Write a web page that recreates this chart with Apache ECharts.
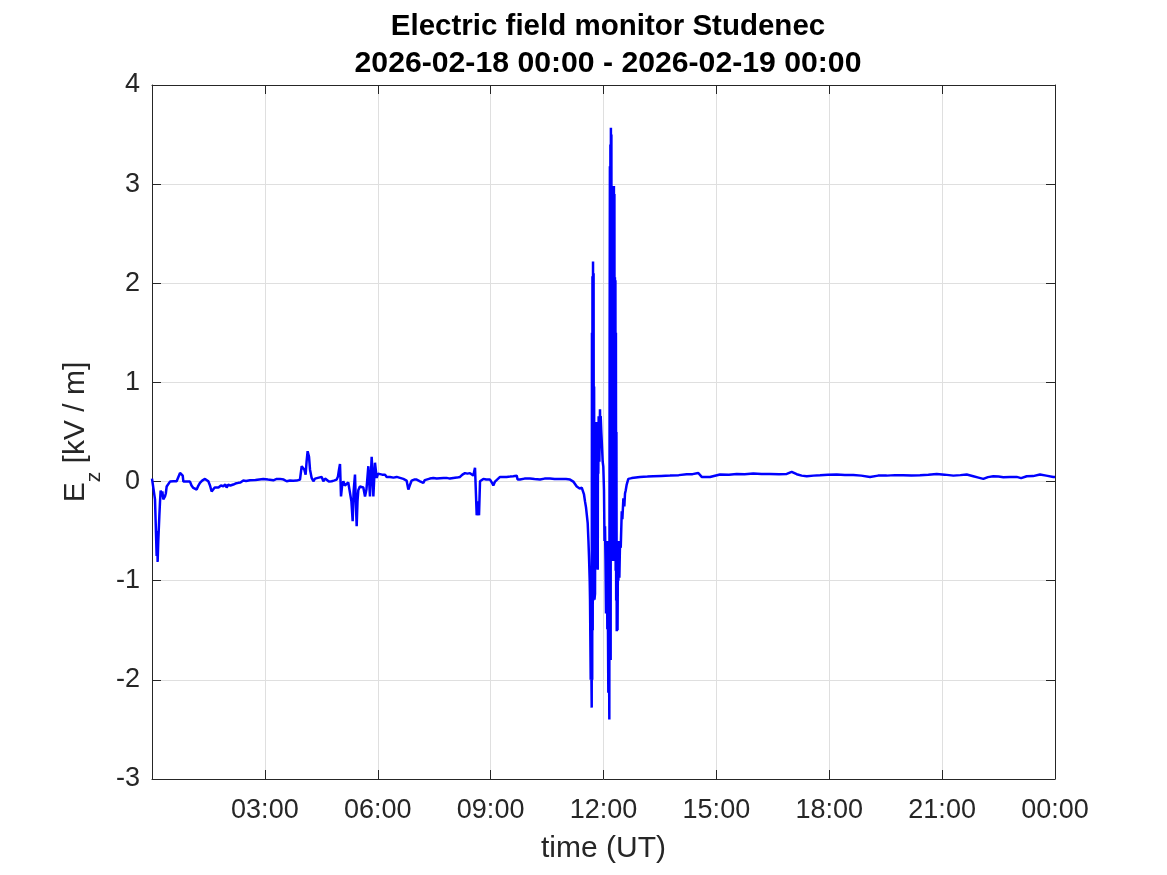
<!DOCTYPE html>
<html>
<head>
<meta charset="utf-8">
<script src="https://cdn.jsdelivr.net/npm/echarts@6/dist/echarts.min.js"></script>
<style>
html,body{margin:0;padding:0;background:#fff;}
#chart{width:1167px;height:875px;}
</style>
</head>
<body>
<div id="chart"></div>
<script>
// ---- data (time in minutes since 2026-02-18 00:00 UT, Ez in kV/m) ----
const titleLines = ['Electric field monitor Studenec', '2026-02-18 00:00 - 2026-02-19 00:00'];
const xAxisTitle = 'time (UT)';
const yTicks = [-3, -2, -1, 0, 1, 2, 3, 4];
const xTickMinutes = [0, 180, 360, 540, 720, 900, 1080, 1260, 1440];

const timesA = [0,1,4.8,6.5,7.4,8.2,9,10,11.7,12.8,13.8,15.5,16.5,18,20.7,22,23.4,26,28.7,31,34,36,39.3,42,44.7,47.3,49,50,52.5,55.3,58,60.6,63,65.9,68,71.2,74,76.5,80,84.5,87,89.8,92.5,95.1,97.8,100,103,106,110,113.7,117,119,121.7,125,129.7,133,137.7,141,145.6,150,156.3,165,177.5,185,193.5,198,204.1,210,214.8,217,220,225,230.7,236,238.7,241.3,243,245,246.5,248.2,250.4,252,254.6,257.3,260,262.6,266,270.6,273.2,276,278.5,282,286.5,290,294.5,296.5,298.2,299.8,301.4,303,305.1,307.5,310.4,313,315.8,318,320,321.5,323.7,325,326.4,327.7,329,331.5,334.4,337,339.7,342,345,347.6,350.3,351.5,353,355.6,358.3,360.5,363.6,367,371.6,374.2,379.5,385,390.2,395.5,400.8,403.5,406,408.8,411,414.1,418,422.1,427.4,432.7,435,438,443,448.6,454,459.3,465,469.9,475,480.5,486,491.2,495,499.1,503,507.1,512.4,515.1,516.7,517.8,519.5,521.5,523.1,528.4,533,539,542,544.3,547,549.6,555,560,565.6,571,576.2,581.6,583,586.8,594,602.8,610,618.7,626,634.7,642,650.6,660.2,666.6];
const valuesA = [0.03,0.02,-0.18,-0.55,-0.75,-0.5,-0.81,-0.6,-0.35,-0.2,-0.09,-0.15,-0.1,-0.18,-0.15,-0.12,-0.05,-0.03,0.0,-0.01,0.003,-0.01,0.003,-0.013,0.087,0.104,0.06,0.0,0.01,0.0,0.01,0.0,-0.04,-0.064,-0.06,-0.08,-0.04,-0.013,0.01,0.027,0.015,0.003,-0.04,-0.1,-0.1,-0.06,-0.047,-0.06,-0.04,-0.047,-0.03,-0.06,-0.03,-0.04,-0.03,-0.02,-0.013,-0.01,0.01,0.005,0.013,0.015,0.027,0.02,0.013,0.025,0.027,0.02,0.003,0.0,0.01,0.008,0.01,0.02,0.155,0.17,0.12,0.07,0.2,0.306,0.25,0.12,0.037,0.003,0.03,0.037,0.04,0.047,0.003,0.03,0.02,0.0,0.003,0.01,0.02,0.05,0.12,0.178,-0.15,-0.05,0.003,-0.04,-0.047,-0.01,0.003,-0.2,-0.4,-0.1,0.07,-0.2,-0.45,-0.2,-0.087,-0.05,-0.03,-0.06,-0.15,-0.08,0.155,-0.15,0.25,0.1,-0.15,0.19,0.037,0.08,0.094,0.07,0.07,0.047,0.047,0.04,0.047,0.037,0.027,0.047,0.01,-0.08,-0.04,0.01,0.02,0.02,0.003,-0.013,0.015,0.02,0.03,0.037,0.03,0.034,0.037,0.037,0.03,0.037,0.04,0.047,0.07,0.085,0.08,0.085,0.06,0.14,0.155,-0.34,-0.2,-0.34,0.003,0.027,0.02,0.02,-0.01,-0.04,0.0,0.01,0.047,0.045,0.047,0.05,0.054,0.06,0.02,0.02,0.03,0.03,0.025,0.02,0.03,0.03,0.025,0.025,0.025,0.02];

const timesB = [671.8,677.3,679.8,682,685.3,688.9,690.5,692.1,694.8,696,696.9,698,698.5,699.6,700.5,701.2,701.6,702.0,702.4,702.8,703.3,703.7,704.2,704.6,705,705.6,706.5,707.2,707.6,708.3,709.2,709.8,710.8,711.2,711.7,712.3,712.8,713.4,714.4,715.0,715.5,716.5,717.1,718.7,719.7,720.8,721.6,722.4,723.2,724,724.5,725,725.5,726.1,727,727.7,728.5,729.3,729.8,730.2,730.6,731.0,731.4,731.8,732.2,732.6,733.0,733.4,733.8,734.2,734.6,735.0,735.4,735.8,736.2,736.6,737.0,737.4,737.8,738.2,738.6,739.0,739.4,739.8,740.2,740.6,741.1,741.8,742.4,743,743.7,744.5,745.3,746.4,747.5,749.1,750.1,751.7,753.2,754.3,755.4,757,759.6,765];
const valuesB = [0.0,-0.05,-0.04,-0.07,-0.06,-0.13,-0.2,-0.26,-0.42,-0.6,-0.76,-1.0,-1.19,-2.0,-1.8,-2.28,1.5,-2.0,2.07,-1.5,2.22,-1.2,2.1,-1.1,0.96,-1.19,-1.13,0.55,-0.88,0.6,0.59,-0.5,-0.89,0.6,0.08,0.66,0.56,0.2,0.73,0.4,0.66,0.5,0.42,0.2,0.15,-0.09,-0.6,-0.45,-0.8,-1.33,-0.9,-1.2,-0.6,-1.49,-1.34,-2.13,-1.4,-2.4,1.5,3.18,-1.2,3.4,-1.8,3.57,0.2,3.5,-0.5,2.9,-0.8,2.85,-0.8,2.95,-0.7,2.95,-0.75,2.98,-0.6,2.9,-0.7,2.06,-0.8,2.03,-0.9,1.5,-1.2,0.5,-1.51,-0.9,-1.5,-0.8,-1.0,-0.6,-0.97,-0.6,-0.67,-0.3,-0.38,-0.17,-0.25,-0.12,-0.09,-0.03,0.027,0.035];

const timesC = [767.5,778.2,790,799.4,812,826.1,840,852.7,862,871.2,876.6,889.8,905.8,920,932.4,945,958.9,972,985.5,1000,1012.2,1020.1,1028.1,1036,1044.1,1055,1065.3,1078,1091.9,1105,1118.4,1131,1145,1158,1171.6,1185,1198.1,1211,1224.7,1238,1251.4,1264,1277.9,1289,1299.2,1309.7,1318,1325.7,1333,1341.6,1350,1357.6,1368,1378.9,1386,1394.9,1405,1416.1,1426,1437.3,1440];
const valuesC = [0.047,0.047,0.05,0.054,0.057,0.06,0.065,0.074,0.075,0.087,0.047,0.047,0.071,0.07,0.077,0.075,0.081,0.077,0.077,0.075,0.077,0.098,0.074,0.06,0.054,0.06,0.064,0.07,0.071,0.067,0.067,0.06,0.047,0.06,0.06,0.065,0.064,0.062,0.064,0.07,0.077,0.07,0.06,0.065,0.071,0.054,0.04,0.027,0.045,0.054,0.05,0.044,0.047,0.047,0.035,0.054,0.055,0.071,0.06,0.047,0.047];

// ---- build series ----
const times = timesA.concat(timesB, timesC);
const values = valuesA.concat(valuesB, valuesC);
const seriesData = times.map((t, i) => [t, values[i]]);

function fmtTime(v) {
  if (v === 0) return '';
  const m = Math.round(v) % 1440;
  const hh = String(Math.floor(m / 60)).padStart(2, '0');
  const mm = String(m % 60).padStart(2, '0');
  return hh + ':' + mm;
}

const FONT = '"Liberation Sans", Arial, Helvetica, sans-serif';
const AX = '#262626';
const GRID = '#dfdfdf';

const chart = echarts.init(document.getElementById('chart'), null, {renderer: 'canvas'});
const option = {
  backgroundColor: '#ffffff',
  animation: false,
  title: {
    text: '{a|' + titleLines[0] + '}\n{b|' + titleLines[1] + '}',
    left: 603,
    top: 3,
    textAlign: 'center',
    textStyle: {
      fontFamily: FONT, fontSize: 29, fontWeight: 'bold', color: '#000', lineHeight: 37,
      rich: {
        a: {fontFamily: FONT, fontSize: 29.5, fontWeight: 'bold', color: '#000', lineHeight: 37},
        b: {fontFamily: FONT, fontSize: 30.2, fontWeight: 'bold', color: '#000', lineHeight: 37}
      }
    }
  },
  grid: {left: 152, right: 112, top: 85, bottom: 96, containLabel: false},
  xAxis: [{
    type: 'value', min: 0, max: 1440, interval: 180, position: 'bottom',
    name: xAxisTitle, nameLocation: 'middle', nameGap: 55,
    nameTextStyle: {fontFamily: FONT, fontSize: 30, color: AX},
    axisLine: {show: true, onZero: false, lineStyle: {color: AX, width: 1}},
    axisTick: {show: true, inside: true, length: 9, lineStyle: {color: AX}},
    axisLabel: {fontFamily: FONT, fontSize: 27, color: AX, margin: 18, formatter: fmtTime, showMinLabel: true, showMaxLabel: true},
    splitLine: {show: true, lineStyle: {color: GRID, width: 1}}
  }, {
    type: 'value', min: 0, max: 1440, interval: 180, position: 'top',
    axisLine: {show: true, onZero: false, lineStyle: {color: AX, width: 1}},
    axisTick: {show: true, inside: true, length: 9, lineStyle: {color: AX}},
    axisLabel: {show: false},
    splitLine: {show: false}
  }],
  yAxis: [{
    type: 'value', min: -3, max: 4, interval: 1, position: 'left',
    name: '{e|E}{z|z}{t| [kV / m]}', nameLocation: 'middle', nameGap: 43, nameRotate: 90,
    nameTextStyle: {
      fontFamily: FONT, fontSize: 30, color: AX,
      rich: {
        e: {fontFamily: FONT, fontSize: 30, color: AX, lineHeight: 30, verticalAlign: 'middle'},
        z: {fontFamily: FONT, fontSize: 21, color: AX, lineHeight: 21, verticalAlign: 'bottom'},
        t: {fontFamily: FONT, fontSize: 30, color: AX, lineHeight: 58, verticalAlign: 'middle'}
      }
    },
    axisLine: {show: true, onZero: false, lineStyle: {color: AX, width: 1}},
    axisTick: {show: true, inside: true, length: 9, lineStyle: {color: AX}},
    axisLabel: {fontFamily: FONT, fontSize: 27, color: AX, margin: 12},
    splitLine: {show: true, lineStyle: {color: GRID, width: 1}}
  }, {
    type: 'value', min: -3, max: 4, interval: 1, position: 'right',
    axisLine: {show: true, onZero: false, lineStyle: {color: AX, width: 1}},
    axisTick: {show: true, inside: true, length: 9, lineStyle: {color: AX}},
    axisLabel: {show: false},
    splitLine: {show: false}
  }],
  series: [{
    type: 'line',
    data: seriesData,
    xAxisIndex: 0, yAxisIndex: 0,
    showSymbol: false, symbol: 'none',
    lineStyle: {color: '#0000ff', width: 2.5, join: 'bevel'},
    clip: true,
    z: 3
  }]
};
chart.setOption(option);
</script>
</body>
</html>
